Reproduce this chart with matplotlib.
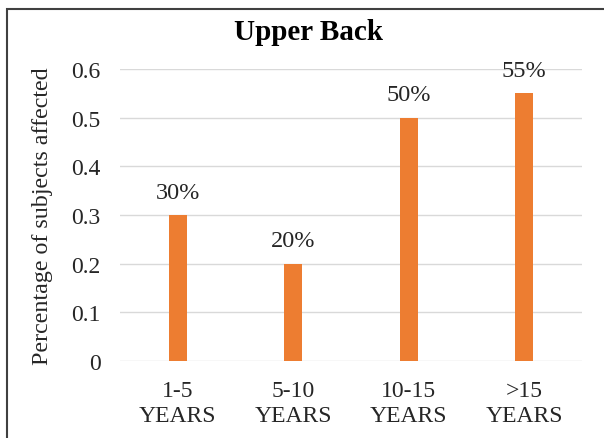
import matplotlib
matplotlib.use("Agg")
import matplotlib.pyplot as plt
from matplotlib.patches import Rectangle

categories = ["1-5\nYEARS", "5-10\nYEARS", "10-15\nYEARS", ">15\nYEARS"]
values = [0.30, 0.20, 0.50, 0.55]
labels = ["30%", "20%", "50%", "55%"]
yticks = [0, 0.1, 0.2, 0.3, 0.4, 0.5, 0.6]
ytick_labels = ["0", "0.1", "0.2", "0.3", "0.4", "0.5", "0.6"]

plt.rcParams["font.family"] = ["Liberation Serif", "DejaVu Serif"]

W, H = 604, 439
fig = plt.figure(figsize=(W / 100, H / 100), dpi=100)

# outer frame of the chart
fig.patches.append(Rectangle((7 / W, -0.05), 1.2, (H - 10) / H + 0.05,
                             transform=fig.transFigure, fill=False,
                             edgecolor="#404040", linewidth=1.5))

ax = fig.add_axes([120 / W, 1 - 362 / H, (582 - 120) / W, (362 - 70) / H])
x = range(len(categories))
ax.bar(x, values, width=0.16, color="#ED7D31", zorder=3)
for xi, v, lab in zip(x, values, labels):
    ax.annotate(lab, (xi, v), xytext=(0, 12.5), textcoords="offset points",
                ha="center", va="baseline", fontsize=17.5, color="#262626")

ax.set_xlim(-0.5, len(categories) - 0.5)
ax.set_ylim(0, 0.6)
ax.set_yticks(yticks)
ax.set_yticklabels(ytick_labels)
ax.set_xticks(list(x))
ax.set_xticklabels(categories, linespacing=1.2)
ax.tick_params(axis="both", length=0, labelsize=17, colors="#262626")
ax.tick_params(axis="y", pad=14)
ax.tick_params(axis="x", pad=14)
ax.grid(axis="y", color="#D9D9D9", linewidth=1, zorder=0)
for s in ax.spines.values():
    s.set_visible(False)

ax.set_ylabel("Percentage of subjects affected", fontsize=17.3, color="#262626", labelpad=13)
fig.text(308 / W, 1 - 40 / H, "Upper Back", ha="center", va="baseline",
         fontsize=21, fontweight="bold", color="#000000")

fig.savefig("out.png", dpi=100)
